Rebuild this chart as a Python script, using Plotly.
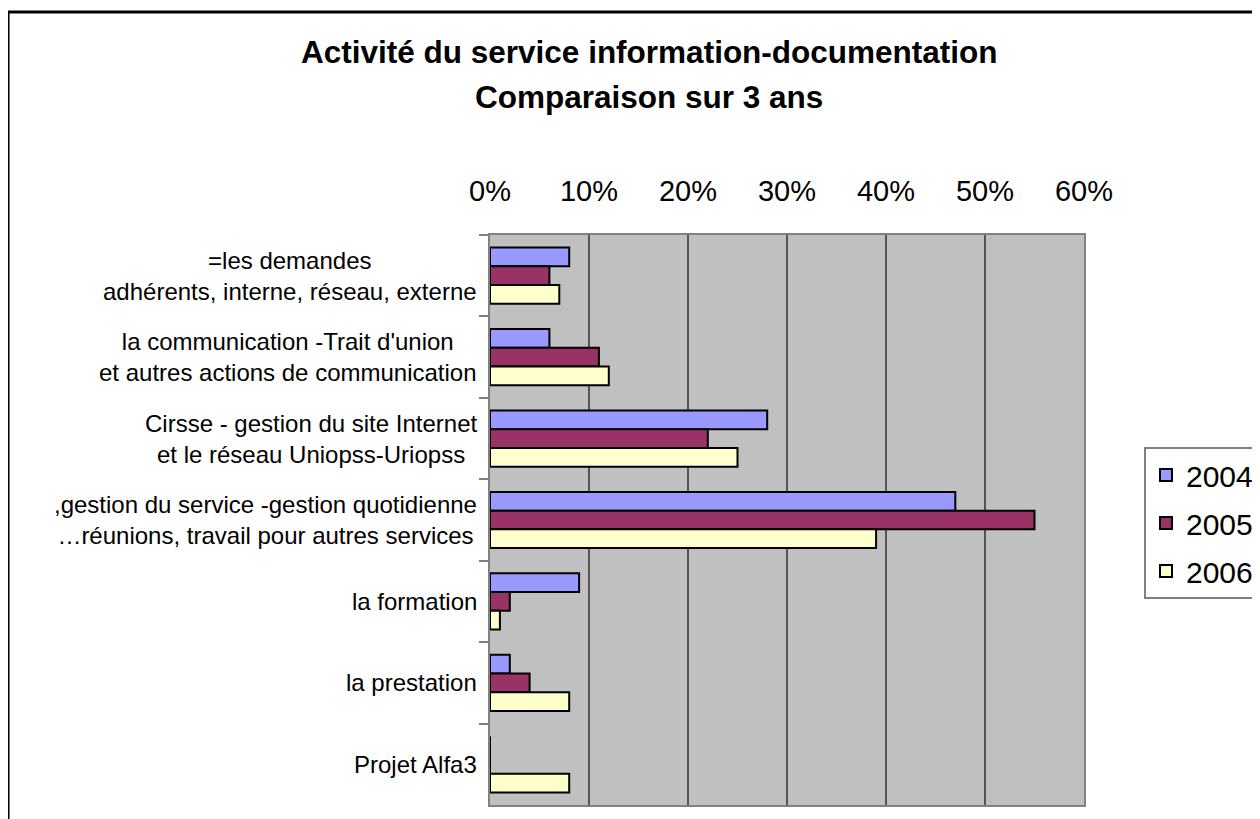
import plotly.graph_objects as go

# Categories (top to bottom) and yearly shares in %
categories = [
    "=les demandes<br>adhérents, interne, réseau, externe",
    "la communication -Trait d'union<br>et autres actions de communication",
    "Cirsse - gestion du site Internet<br>et le réseau Uniopss-Uriopss",
    ",gestion du service -gestion quotidienne<br>…réunions, travail pour autres services",
    "la formation",
    "la prestation",
    "Projet Alfa3",
]
years = ["2004", "2005", "2006"]
v2004 = [8, 6, 28, 47, 9, 2, 0]
v2005 = [6, 11, 22, 55, 2, 4, 0]
v2006 = [7, 12, 25, 39, 1, 8, 8]
x_ticks = [0, 10, 20, 30, 40, 50, 60]
x_tick_labels = ["0%", "10%", "20%", "30%", "40%", "50%", "60%"]

colors = ["#9999FF", "#993366", "#FFFFCC"]
FONT = "Liberation Sans, Arial, sans-serif"

fig = go.Figure()
for name, vals, col in zip(years, [v2004, v2005, v2006], colors):
    fig.add_trace(go.Bar(
        y=categories, x=vals, name=name, orientation="h",
        marker=dict(color=col, line=dict(color="black", width=2)),
        legendgroup=name,
    ))

# category labels: centred lines, right-anchored next to the axis
annotations = []
for cat in categories:
    annotations.append(dict(
        xref="paper", yref="y", x=0, y=cat, xanchor="right", xshift=-11,
        text=cat, showarrow=False, align="center",
        font=dict(family=FONT, size=24, color="black"),
    ))

# title in two lines
for txt, yy in [("Activité du service information-documentation", 1.321),
                ("Comparaison sur 3 ans", 1.242)]:
    annotations.append(dict(
        xref="paper", yref="paper", x=0.2677, y=yy, xanchor="center", yanchor="middle",
        text="<b>" + txt + "</b>", showarrow=False,
        font=dict(family=FONT, size=31.5, color="black"),
    ))

# page body adds ~8px offset, so margins are shifted by that amount
fig.update_layout(
    width=1260, height=819,
    margin=dict(l=482, r=184, t=227, b=22, autoexpand=False),
    paper_bgcolor="white",
    plot_bgcolor="#C0C0C0",
    barmode="group",
    bargap=0.31,
    bargroupgap=0,
    font=dict(family=FONT, color="black"),
    showlegend=True,
    legend=dict(
        x=1.101, y=0.628, xanchor="left", yanchor="top",
        bgcolor="white", bordercolor="#808080", borderwidth=2,
        font=dict(family=FONT, size=30, color="black"),
        tracegroupgap=6,
    ),
    annotations=annotations,
    shapes=[dict(
        type="rect", xref="paper", yref="paper",
        x0=-0.8114, y0=-1.0, x1=2.0, y1=1.3912,
        line=dict(color="black", width=3), fillcolor="rgba(0,0,0,0)", layer="below",
    )],
)

fig.update_xaxes(
    side="top", range=[0, 60], tickvals=x_ticks, ticktext=x_tick_labels,
    tickfont=dict(family=FONT, size=29, color="black"),
    ticklabelstandoff=20,
    showgrid=True, gridcolor="#555555", gridwidth=2,
    showline=True, linecolor="#808080", linewidth=2, mirror=True,
    zeroline=False, ticks="",
)
fig.update_yaxes(
    autorange="reversed", showticklabels=False,
    ticks="outside", tickson="boundaries", ticklen=9, tickcolor="#808080", tickwidth=2,
    showgrid=False,
    showline=True, linecolor="#808080", linewidth=2, mirror=True,
)

fig.write_html("out.html")
